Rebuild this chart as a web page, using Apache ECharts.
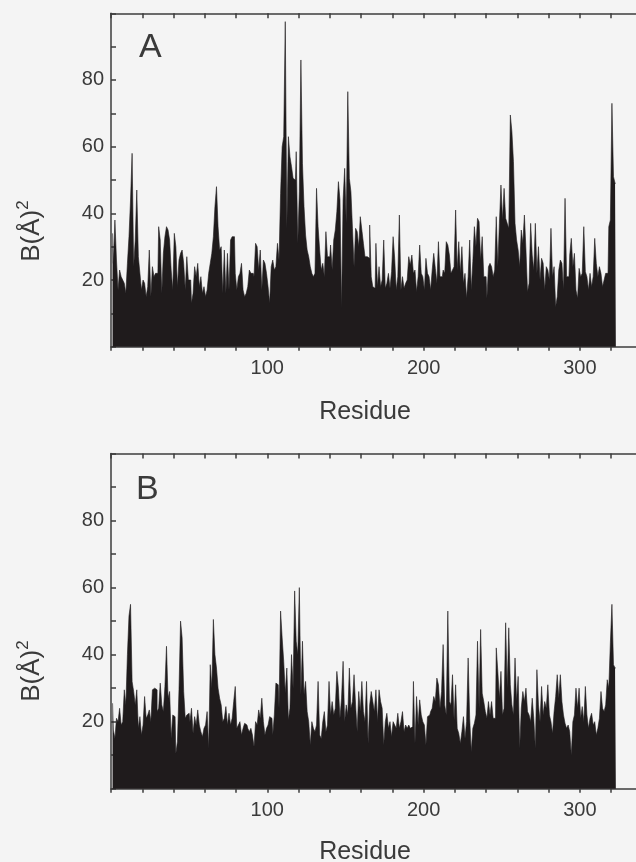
<!DOCTYPE html>
<html>
<head>
<meta charset="utf-8">
<script src="https://cdn.jsdelivr.net/npm/echarts@6/dist/echarts.min.js"></script>
<style>
html,body{margin:0;padding:0;background:#f4f4f4;}
#chart{width:636px;height:862px;}
</style>
</head>
<body>
<div id="chart"></div>
<script>
// ---- data (B-factor per residue) ----
const xTickLabels = [100, 200, 300];
const yTickLabels = [20, 40, 60, 80];
const panelLabels = ['A', 'B'];

const bFactorA = [
  34, 25, 38, 26, 17, 23, 21, 20, 19, 16,
  25, 33, 44, 58, 24, 32, 47, 27, 22, 17,
  20, 19, 15, 18, 29, 15, 24, 21, 22, 22,
  36, 32, 16, 28, 33, 36, 35, 32, 23, 17,
  34, 30, 18, 26, 28, 29, 25, 17, 27, 20,
  20, 13, 16, 24, 21, 25, 18, 21, 16, 18,
  15, 17, 22, 25, 28, 33, 42, 48, 36, 29,
  30, 16, 29, 16, 28, 17, 32, 33, 33, 22,
  17, 21, 22, 25, 17, 15, 16, 18, 23, 22,
  22, 21, 31, 30, 23, 29, 17, 26, 25, 22,
  18, 13, 24, 26, 23, 24, 31, 26, 46, 60,
  63, 97.5, 35.5, 63, 57, 54, 50.5, 50, 58.5, 31,
  46.5, 86, 55, 42, 33.5, 29, 27, 24, 22, 21,
  22, 47.5, 36, 29, 23, 25, 21, 34.5, 27, 27,
  30.5, 23, 32, 35, 40.5, 49.5, 44, 11.5, 44, 53.5,
  37, 76.5, 50.5, 46.5, 35.5, 24, 35.5, 34.5, 30, 39,
  35, 31, 27, 27, 26.5, 36.5, 21, 18, 17.5, 31,
  18, 24, 18, 20, 32, 17.5, 19, 22, 17.5, 22.5,
  33, 26.5, 17, 21, 39.5, 17, 21, 17.5, 19, 20,
  27, 24.5, 27.5, 22, 23, 16.5, 21, 30.5, 22, 21,
  17, 26.5, 22, 21, 17, 23, 28, 23.5, 19, 31.5,
  21, 21, 23, 22, 31.5, 30.5, 27.5, 22, 23, 24,
  41, 23, 31.5, 22, 30, 19, 22, 14.5, 21, 32,
  17, 25.5, 36, 30, 38.5, 37.5, 26, 33, 21, 21,
  14.5, 24, 25, 24, 21, 23, 39, 24, 37, 48.5,
  38, 47.5, 38.5, 37, 35.5, 69.5, 64.5, 55.5, 37, 32,
  29, 24, 35, 31, 39.5, 29, 16.5, 19, 37, 27.5,
  23, 37, 22, 30, 20, 26.5, 25, 17, 24, 23,
  20, 35.5, 21, 24, 12, 15, 23, 26, 25, 17,
  44.5, 21, 21, 27.5, 32.5, 24, 28, 17, 14.5, 23.5,
  21, 22, 36, 22.5, 21, 17, 22, 18, 21, 32.5,
  25, 21, 24, 22, 18, 20, 22, 22, 36, 38,
  73, 51, 49
];

const bFactorB = [
  25.5, 17.5, 15, 21, 20, 24, 19, 20, 29.5, 25,
  40, 51.5, 55, 32, 29, 25, 29.5, 18, 21.5, 16,
  19, 27.5, 21, 22, 23.5, 20, 29.5, 30, 29.5, 23,
  24, 31.5, 25, 23, 30.5, 42.5, 27, 29, 15, 22,
  21.5, 10.5, 14, 29.5, 50, 45, 29, 21, 22, 22.5,
  20, 24, 16.5, 21.5, 19, 23.5, 19, 17, 15.5, 18,
  19, 23, 12, 37, 30, 50.5, 40, 36, 30, 27,
  25, 20, 21, 24.5, 19, 22.5, 19, 21, 26, 30.5,
  18, 19, 20, 16, 18, 19.5, 19, 18, 17, 18,
  16, 12.5, 20, 19, 23.5, 21, 27, 20, 16, 18,
  19, 21.5, 21, 16, 22, 31.5, 31, 24, 53, 45,
  38, 28.5, 36, 20.5, 24, 40, 30, 59, 44, 40,
  60, 28, 44, 28, 32, 23, 20, 13, 20, 18,
  17, 19, 32, 16, 15, 20, 23, 17, 19, 32,
  22, 26, 22, 24, 35, 30, 21, 27, 38, 20,
  25, 22, 36, 24, 26, 34, 25, 17, 29, 23,
  32, 23, 20, 32, 13.5, 25, 29, 26, 23, 29.5,
  20, 29.5, 26, 24, 13, 20, 22.5, 18, 20, 15.5,
  20, 19, 18, 22.5, 18, 20, 23, 17, 19, 18,
  19, 18, 18.5, 32, 13.5, 27.5, 19, 26.5, 22, 20,
  19, 13, 21.5, 22, 23, 24, 27.5, 26, 33, 31,
  24, 29, 43, 25, 22, 53, 26, 25, 34, 20.5,
  31, 18, 16.5, 13.5, 17, 21.5, 15, 20, 39, 21,
  11, 18, 19.5, 22, 44, 24, 47.5, 28.5, 26, 23,
  21, 26, 22, 26, 21, 21, 42, 35, 27, 35,
  22, 24, 49.5, 30, 48, 31, 25, 22, 39, 26,
  33.5, 12, 24, 29, 26, 30, 23, 22, 20, 27,
  21, 12, 35.5, 25, 20, 30.5, 22, 26, 24, 31,
  22, 20, 16.5, 23, 27.5, 34, 27, 34, 26, 22,
  19.5, 18, 19, 17, 10, 20, 22, 30, 24, 30,
  21, 24.5, 20, 30.5, 22, 18, 21, 22.5, 19, 20,
  16, 18, 21, 29, 24, 23, 25, 32.5, 30, 43.5,
  55, 37, 36
];

const residues = bFactorA.map((_, i) => i + 1);

// ---- styling ----
const FONT = '"Liberation Sans", Arial, Helvetica, sans-serif';
const TEXT = '#3a3a3a';
const LINE = '#3c3c3c';
const BAR = '#1f1b1c';
const XMAX = 340;

const grids = [
  { left: 111, top: 13.3, right: -6.4, height: 333.4, containLabel: false, outerBoundsMode: 'none' },
  { left: 111, top: 453.5, right: -6.4, height: 335.2, containLabel: false, outerBoundsMode: 'none' }
];

function xBottom(gi) {
  return {
    type: 'value', gridIndex: gi, position: 'bottom', min: 0, max: XMAX, interval: 20,
    axisLine: { show: true, onZero: false, lineStyle: { color: LINE, width: 1.5 } },
    axisTick: { show: true, inside: false, length: 4, lineStyle: { color: LINE, width: 1.5 } },
    axisLabel: { show: true, margin: 12, fontSize: 20, fontFamily: FONT, color: TEXT,
      formatter: v => xTickLabels.includes(v) ? String(v) : '' },
    splitLine: { show: false }
  };
}
function xTop(gi) {
  return {
    type: 'value', gridIndex: gi, position: 'top', min: 0, max: XMAX, interval: 20,
    axisLine: { show: true, onZero: false, lineStyle: { color: LINE, width: 1.5 } },
    axisTick: { show: true, inside: true, length: 5, lineStyle: { color: LINE, width: 1.5 } },
    axisLabel: { show: false },
    splitLine: { show: false }
  };
}
function yLeft(gi) {
  return {
    type: 'value', gridIndex: gi, position: 'left', min: 0, max: 100, interval: 10,
    axisLine: { show: true, onZero: false, lineStyle: { color: LINE, width: 1.5 } },
    axisTick: { show: true, inside: true, length: 5, lineStyle: { color: LINE, width: 1.5 } },
    axisLabel: { show: true, margin: 7, fontSize: 20, fontFamily: FONT, color: TEXT,
      formatter: v => yTickLabels.includes(v) ? String(v) : '' },
    splitLine: { show: false }
  };
}

// histogram drawn as a step-area so neighbouring residues join seamlessly
function histSeries(values, xi, yi) {
  return {
    type: 'line', xAxisIndex: xi, yAxisIndex: yi,
    data: residues.map((r, i) => [r, values[i]]),
    step: 'middle',
    showSymbol: false, symbol: 'none',
    lineStyle: { color: BAR, width: 0.6 },
    areaStyle: { color: BAR, opacity: 1, origin: 'start' },
    silent: true, z: 1
  };
}

function txt(text, x, y, size, extra) {
  return Object.assign({
    type: 'text', x: x, y: y, silent: true,
    style: { text: text, fontSize: size, fontFamily: FONT, fill: TEXT, align: 'left', verticalAlign: 'middle' }
  }, extra || {});
}

function yName(y) {
  return {
    type: 'text', x: 30, y: y, rotation: Math.PI / 2, silent: true,
    style: {
      text: '{b|B(Å)}{s|2}', align: 'center', verticalAlign: 'middle',
      fontFamily: FONT, fill: TEXT,
      rich: {
        b: { fontSize: 26, fontFamily: FONT, fill: TEXT, lineHeight: 30, verticalAlign: 'bottom' },
        s: { fontSize: 17, fontFamily: FONT, fill: TEXT, lineHeight: 30, verticalAlign: 'top' }
      }
    }
  };
}

const graphics = [
  txt(panelLabels[0], 139, 47.5, 34),
  txt(panelLabels[1], 136, 490, 34),
  txt('Residue', 365, 412, 25),
  txt('Residue', 365, 852, 25),
  yName(231),
  yName(671)
];
graphics[2].style.align = 'center';
graphics[3].style.align = 'center';

const chart = echarts.init(document.getElementById('chart'), null, { renderer: 'canvas' });
chart.setOption({
  backgroundColor: '#f4f4f4',
  animation: false,
  grid: grids,
  xAxis: [xBottom(0), xTop(0), xBottom(1), xTop(1)],
  yAxis: [yLeft(0), yLeft(1)],
  series: [histSeries(bFactorA, 0, 0), histSeries(bFactorB, 2, 1)],
  graphic: graphics
});
</script>
</body>
</html>
